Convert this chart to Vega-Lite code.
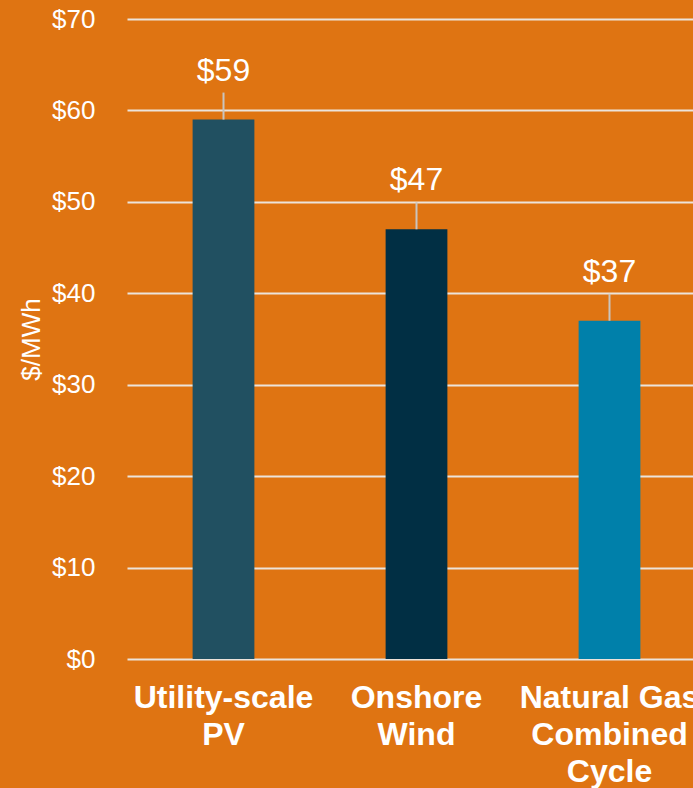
{
  "$schema": "https://vega.github.io/schema/vega-lite/v6.json",
  "width": 579,
  "height": 640,
  "autosize": {"type": "none"},
  "padding": {"left": 127, "top": 19, "right": 0, "bottom": 129},
  "background": "#df7412",
  "config": {
    "view": {"stroke": null},
    "font": "Liberation Sans"
  },
  "data": {
    "values": [
      {"source": "Utility-scale PV", "cost": 59},
      {"source": "Onshore Wind", "cost": 47},
      {"source": "Natural Gas Combined Cycle", "cost": 37}
    ]
  },
  "encoding": {
    "x": {
      "field": "source",
      "type": "nominal",
      "sort": null,
      "scale": {"paddingInner": 0.68, "paddingOuter": 0.34},
      "axis": {
        "title": null,
        "labelAngle": 0,
        "labelFont": "Liberation Sans",
        "labelFontWeight": "bold",
        "labelFontSize": 32,
        "labelColor": "#ffffff",
        "labelLineHeight": 37,
        "labelBaseline": "top",
        "labelPadding": 23,
        "labelExpr": "datum.label == 'Utility-scale PV' ? ['Utility-scale', 'PV'] : datum.label == 'Onshore Wind' ? ['Onshore', 'Wind'] : ['Natural Gas', 'Combined', 'Cycle']",
        "ticks": false,
        "domain": false
      }
    }
  },
  "layer": [
    {
      "mark": {"type": "bar"},
      "encoding": {
        "y": {
          "field": "cost",
          "type": "quantitative",
          "scale": {"domain": [0, 70]},
          "axis": {
            "title": "$/MWh",
            "titleFont": "Liberation Sans",
            "titleFontWeight": "normal",
            "titleFontSize": 26,
            "titleColor": "#ffffff",
            "titleAngle": -90,
            "titleAlign": "center",
            "titleBaseline": "middle",
            "titleX": -96,
            "titleY": 320,
            "values": [0, 10, 20, 30, 40, 50, 60, 70],
            "labelExpr": "'$' + datum.value",
            "labelFont": "Liberation Sans",
            "labelFontSize": 26,
            "labelColor": "#ffffff",
            "labelPadding": 32,
            "ticks": false,
            "domain": false,
            "grid": true,
            "gridColor": "#ece3da",
            "gridWidth": 2
          }
        },
        "color": {
          "field": "source",
          "type": "nominal",
          "sort": null,
          "legend": null,
          "scale": {
            "domain": ["Utility-scale PV", "Onshore Wind", "Natural Gas Combined Cycle"],
            "range": ["#215061", "#012f44", "#0080aa"]
          }
        }
      }
    },
    {
      "mark": {"type": "rule", "color": "#c9c4be", "strokeWidth": 2, "y2Offset": -27},
      "encoding": {
        "y": {"field": "cost", "type": "quantitative"},
        "y2": {"field": "cost"}
      }
    },
    {
      "mark": {"type": "text", "dy": -49, "fontSize": 32, "color": "#ffffff", "font": "Liberation Sans", "baseline": "middle", "align": "center"},
      "encoding": {
        "y": {"field": "cost", "type": "quantitative"},
        "text": {"field": "cost", "type": "quantitative", "format": "$d"}
      }
    }
  ]
}
